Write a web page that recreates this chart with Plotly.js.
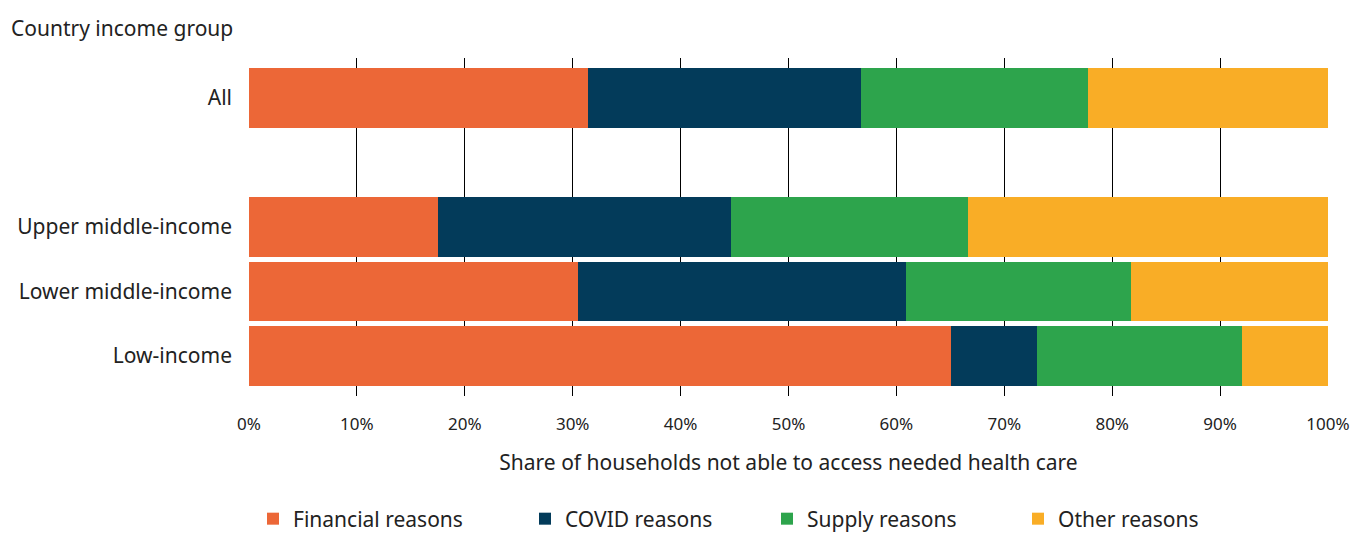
<!DOCTYPE html>
<html><head><meta charset="utf-8">
<script src="https://cdn.plot.ly/plotly-3.0.1.min.js"></script>
<style>html,body{margin:0;padding:0;background:#fff}</style>
</head><body>
<div id="chart" style="width:1356px;height:534px"></div>
<script>
// ---- data ----
const groups = ["All", "Upper middle-income", "Lower middle-income", "Low-income"];
const categoryOrder = ["Low-income", "Lower middle-income", "Upper middle-income", " ", "All"];
const seriesNames = ["Financial reasons", "COVID reasons", "Supply reasons", "Other reasons"];
const financial = [31.4, 17.5, 30.5, 65.1];
const covid     = [25.3, 27.2, 30.4, 7.9];
const supply    = [21.1, 21.9, 20.8, 19.0];
const other     = [22.2, 33.4, 18.3, 8.0];
const xTickVals = [0, 10, 20, 30, 40, 50, 60, 70, 80, 90, 100];
const xTickText = ["0%", "10%", "20%", "30%", "40%", "50%", "60%", "70%", "80%", "90%", "100%"];
const yTitle = "Country income group";
const xTitle = "Share of households not able to access needed health care";

// ---- styles ----
const colors = ["#EC6737", "#033B5A", "#2DA44C", "#F9AD26"];
const FONT = "'Noto Sans', 'Open Sans', sans-serif";
const values = [financial, covid, supply, other];
const legendIds = ["legend", "legend2", "legend3", "legend4"];
const legendLeftPx = [253, 525, 767, 1018];  // legend box positions (layout only)
const PLOT_L = 249, PLOT_W = 1079, PLOT_H = 338;

const traces = values.map((v, i) => ({
  type: "bar",
  orientation: "h",
  name: seriesNames[i],
  x: v,
  y: groups,
  legend: legendIds[i],
  showlegend: true,
  marker: {color: colors[i], line: {width: 0}},
  hoverinfo: "x+name"
}));

const layout = {
  width: 1356, height: 534,
  showlegend: true,
  margin: {l: PLOT_L, r: 28, t: 58, b: 138, autoexpand: false},
  barmode: "stack",
  bargap: 0.08,
  paper_bgcolor: "#fff",
  plot_bgcolor: "#fff",
  font: {family: FONT, color: "#222", size: 17},
  xaxis: {
    range: [0, 100],
    tickvals: xTickVals,
    ticktext: xTickText,
    showgrid: true,
    gridcolor: "#000",
    gridwidth: 1,
    zeroline: false,
    showline: false,
    ticks: "",
    ticklabelstandoff: 16,
    tickfont: {family: FONT, size: 17, color: "#222"},
    title: {text: xTitle, font: {family: FONT, size: 21, color: "#222"}, standoff: 21},
    fixedrange: true
  },
  yaxis: {
    type: "category",
    categoryorder: "array",
    categoryarray: categoryOrder,
    range: [-0.62, 4.62],
    showgrid: false,
    zeroline: false,
    showline: false,
    ticks: "",
    ticklabelstandoff: 16,
    tickfont: {family: FONT, size: 21, color: "#222"},
    fixedrange: true
  },
  annotations: [{
    text: yTitle,
    xref: "paper", yref: "paper",
    x: (9 - PLOT_L) / PLOT_W, xanchor: "left",
    y: 1 + 30 / PLOT_H, yanchor: "middle",
    showarrow: false,
    font: {family: FONT, size: 21, color: "#222"}
  }]
};

legendIds.forEach((id, i) => {
  layout[id] = {
    orientation: "h",
    x: (legendLeftPx[i] - PLOT_L) / PLOT_W, xanchor: "left",
    y: -0.364, yanchor: "middle",
    font: {family: FONT, size: 21, color: "#222"},
    bgcolor: "rgba(0,0,0,0)",
    visible: true
  };
});

Plotly.newPlot("chart", traces, layout, {displayModeBar: false});
</script>
</body></html>
